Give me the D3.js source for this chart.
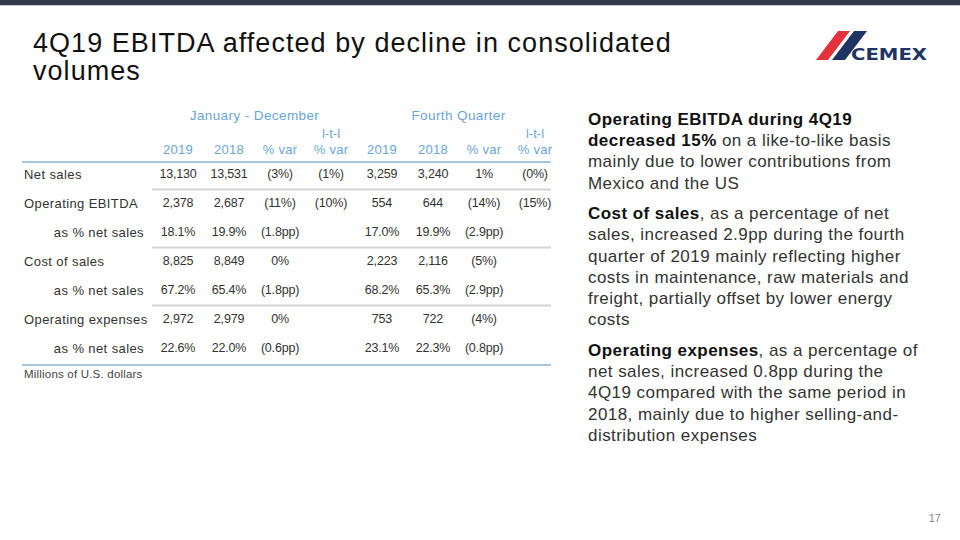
<!DOCTYPE html>
<html><head><meta charset="utf-8">
<script src="https://cdn.jsdelivr.net/npm/d3@7"></script>
<style>body{margin:0;background:#fff}svg{display:block}</style>
</head><body>
<script>
const title = ["4Q19 EBITDA affected by decline in consolidated", "volumes"];
const groupHeaders = ["January - December", "Fourth Quarter"];
const columns = ["2019", "2018", "% var", "% var", "2019", "2018", "% var", "% var"];
const ltlColumns = [3, 7];
const rowLabels = ["Net sales", "Operating EBITDA", "as % net sales", "Cost of sales", "as % net sales", "Operating expenses", "as % net sales"];
const indented = [false, false, true, false, true, false, true];
const jan2019 = ["13,130", "2,378", "18.1%", "8,825", "67.2%", "2,972", "22.6%"];
const jan2018 = ["13,531", "2,687", "19.9%", "8,849", "65.4%", "2,979", "22.0%"];
const janVar  = ["(3%)", "(11%)", "(1.8pp)", "0%", "(1.8pp)", "0%", "(0.6pp)"];
const janLtl  = ["(1%)", "(10%)", "", "", "", "", ""];
const q2019   = ["3,259", "554", "17.0%", "2,223", "68.2%", "753", "23.1%"];
const q2018   = ["3,240", "644", "19.9%", "2,116", "65.3%", "722", "22.3%"];
const qVar    = ["1%", "(14%)", "(2.9pp)", "(5%)", "(2.9pp)", "(4%)", "(0.8pp)"];
const qLtl    = ["(0%)", "(15%)", "", "", "", "", ""];
const footnote = "Millions of U.S. dollars";
const paragraphs = [
  [[{t:"Operating EBITDA during 4Q19", b:true}], [{t:"decreased 15%", b:true}, {t:" on a like-to-like basis"}], [{t:"mainly due to lower contributions from"}], [{t:"Mexico and the US"}]],
  [[{t:"Cost of sales", b:true}, {t:", as a percentage of net"}], [{t:"sales, increased 2.9pp during the fourth"}], [{t:"quarter of 2019 mainly reflecting higher"}], [{t:"costs in maintenance, raw materials and"}], [{t:"freight, partially offset by lower energy"}], [{t:"costs"}]],
  [[{t:"Operating expenses", b:true}, {t:", as a percentage of"}], [{t:"net sales, increased 0.8pp during the"}], [{t:"4Q19 compared with the same period in"}], [{t:"2018, mainly due to higher selling-and-"}], [{t:"distribution expenses"}]]
];
const pageNumber = "17";

const W = 960, H = 540;
const font = "'Liberation Sans', Arial, sans-serif";
const svg = d3.select("body").append("svg").attr("width", W).attr("height", H)
  .style("font-family", font);

// top bar
svg.append("rect").attr("x", 0).attr("y", 0).attr("width", W).attr("height", 5).attr("fill", "#2f3a4c");
svg.append("rect").attr("x", 0).attr("y", 5).attr("width", W).attr("height", 1).attr("fill", "#c5c9d0");

// title
svg.append("text").attr("x", 33).attr("y", 52).attr("font-size", 27).attr("fill", "#111")
  .style("letter-spacing", "1.05px")
  .selectAll("tspan").data(title).join("tspan")
  .attr("x", 33).attr("dy", (d, i) => i ? 28 : 0).text(d => d);

// logo
const logo = svg.append("g");
logo.append("polygon").attr("points", "838,31 850,31 828,60 816,60").attr("fill", "#e3323b");
logo.append("polygon").attr("points", "854,31 867,31 845,60 832,60").attr("fill", "#1e3463");
logo.append("text").attr("x", 851).attr("y", 60).attr("font-size", 16).attr("font-weight", "bold")
  .attr("fill", "#1e3463").attr("textLength", 76).attr("lengthAdjust", "spacingAndGlyphs")
  .style("font-family", "'DejaVu Sans', sans-serif").text("CEMEX");

// table scales
const x = d3.scalePoint().domain(d3.range(columns.length)).range([178, 535]);
const y = d3.scalePoint().domain(d3.range(rowLabels.length)).range([174, 348]);
const blue = "#6aa6d8";

// group headers
const groups = [[0, 3], [4, 7]];
svg.selectAll("text.grp").data(groupHeaders).join("text").attr("class", "grp")
  .attr("x", (d, i) => (x(groups[i][0]) + x(groups[i][1])) / 2)
  .attr("y", 115).attr("dy", "0.35em").attr("text-anchor", "middle")
  .attr("font-size", 13.5).style("letter-spacing", "0.4px").attr("fill", blue).text(d => d);

svg.selectAll("text.ltl").data(ltlColumns).join("text").attr("class", "ltl")
  .attr("x", d => x(d)).attr("y", 133).attr("dy", "0.35em").attr("text-anchor", "middle")
  .attr("font-size", 13).attr("fill", blue).text("l-t-l");

svg.selectAll("text.col").data(columns).join("text").attr("class", "col")
  .attr("x", (d, i) => x(i)).attr("y", 149).attr("dy", "0.35em").attr("text-anchor", "middle")
  .attr("font-size", 13).style("letter-spacing", "0.3px").attr("fill", blue).text(d => d);

// rules
svg.append("line").attr("x1", 22).attr("x2", 551).attr("y1", 162).attr("y2", 162)
  .attr("stroke", "#a8c5de").attr("stroke-width", 2);
svg.append("line").attr("x1", 22).attr("x2", 551).attr("y1", 365).attr("y2", 365)
  .attr("stroke", "#a8c5de").attr("stroke-width", 2);
const sepRows = [1, 3, 5];
svg.selectAll("line.sep").data(sepRows).join("line").attr("class", "sep")
  .attr("x1", 152).attr("x2", 551)
  .attr("y1", d => (y(d) + y(d - 1)) / 2 + 1).attr("y2", d => (y(d) + y(d - 1)) / 2 + 1)
  .attr("stroke", "#d4d4d4").attr("stroke-width", 2);

// row labels
svg.selectAll("text.rl").data(rowLabels).join("text").attr("class", "rl")
  .attr("x", (d, i) => indented[i] ? 144 : 24)
  .attr("text-anchor", (d, i) => indented[i] ? "end" : "start")
  .attr("y", (d, i) => y(i)).attr("dy", "0.35em")
  .attr("font-size", 13).style("letter-spacing", "0.4px").attr("fill", "#333").text(d => d);

// cells
const colData = [jan2019, jan2018, janVar, janLtl, q2019, q2018, qVar, qLtl];
colData.forEach((arr, ci) => {
  svg.append("g").selectAll("text").data(arr).join("text")
    .attr("x", x(ci)).attr("y", (d, i) => y(i)).attr("dy", "0.35em")
    .attr("text-anchor", "middle").attr("font-size", 12.5).attr("fill", "#333")
    .style("letter-spacing", "-0.2px")
    .text(d => d);
});

svg.append("text").attr("x", 24).attr("y", 374).attr("dy", "0.35em")
  .attr("font-size", 11.5).style("letter-spacing", "0.2px").attr("fill", "#444").text(footnote);

// right text
let yy = 119;
const rt = svg.append("g");
paragraphs.forEach((p, pi) => {
  p.forEach(line => {
    const t = rt.append("text").attr("x", 588).attr("y", yy).attr("dy", "0.35em")
      .attr("font-size", 17).style("letter-spacing", "0.45px").attr("fill", "#222");
    t.selectAll("tspan").data(line).join("tspan")
      .attr("font-weight", d => d.b ? "bold" : "normal")
      .attr("fill", d => d.b ? "#111" : "#333").text(d => d.t);
    yy += 21.2;
  });
  yy += 9.5;
});

svg.append("text").attr("x", 941).attr("y", 522).attr("text-anchor", "end")
  .attr("font-size", 11).attr("fill", "#888").text(pageNumber);
</script>
</body></html>
